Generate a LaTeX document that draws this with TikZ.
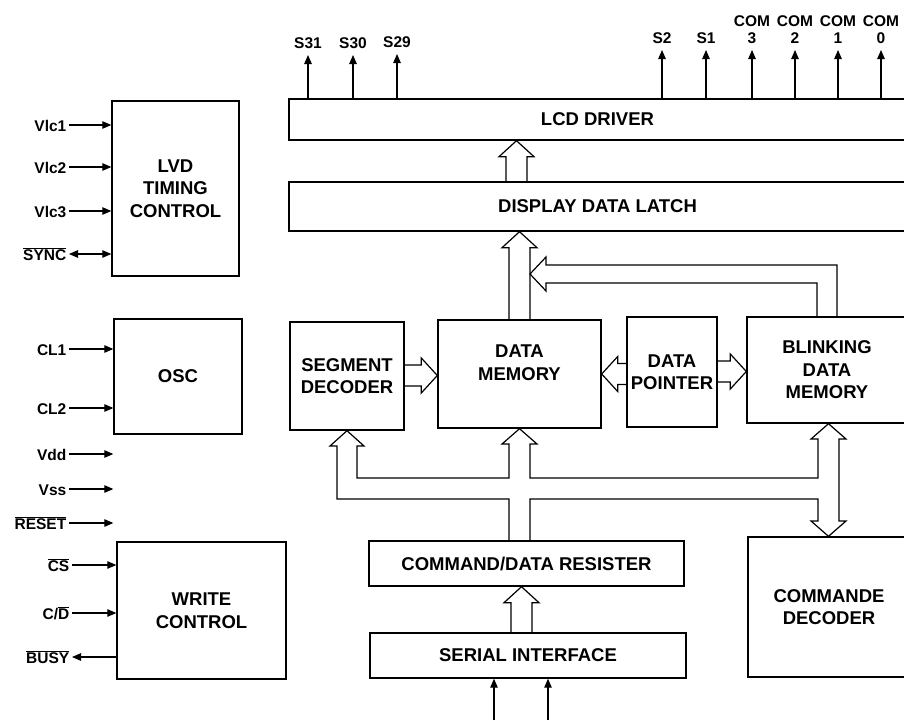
\documentclass[tikz,border=0pt]{standalone}
\usepackage{fontspec}
\setmainfont{Liberation Sans}
\usetikzlibrary{calc,arrows.meta}

\newcommand{\boxfont}{\fontsize{18.5}{22.5}\selectfont\bfseries}
\newcommand{\pinfont}{\fontsize{15.5}{17}\selectfont\bfseries}
\newcommand{\ovl}[1]{$\overline{\mbox{#1}}$}

\tikzset{
    blk/.style={draw, line width=1.4pt, align=center, font=\boxfont, inner sep=0pt},
    pinlbl/.style={font=\pinfont, inner sep=2.5pt, text height=12pt, text depth=0pt},
    comlbl/.style={font=\pinfont, inner sep=2.5pt, align=center},
    pin/.style={line width=1.1pt, -{Triangle[length=9pt,width=7.5pt]}},
    bipin/.style={line width=1.1pt, {Triangle[length=9pt,width=7.5pt]}-{Triangle[length=9pt,width=7.5pt]}},
    bus/.style={line width=1.2pt, line join=miter},
}

% hollow bus arrow pointing up: x, tail anchor, tip anchor
\newcommand{\vbus}[3]{%
    \draw[bus] ($(#1,0 |- #2)+(-10.5,0)$) -- ($(#1,0 |- #3)+(-10.5,16)$) -- ++(-7,0)
        -- (#1,0 |- #3) -- ($(#1,0 |- #3)+(17.5,16)$) -- ++(-7,0) -- ($(#1,0 |- #2)+(10.5,0)$);}
% hollow bus arrow sideways: y, tail anchor, tip anchor, direction (1 right, -1 left)
\newcommand{\hbus}[4]{%
    \draw[bus] ($(#2 |- 0,#1)+(0,-10.5)$) -- ($(#3 |- 0,#1)+(-16*#4,-10.5)$) -- ++(0,-7)
        -- (#3 |- 0,#1) -- ($(#3 |- 0,#1)+(-16*#4,17.5)$) -- ++(0,-7) -- ($(#2 |- 0,#1)+(0,10.5)$);}

\begin{document}
\begin{tikzpicture}[x=1pt, y=-1pt]
    \path[use as bounding box, clip] (0,0) rectangle (904,720);

    % blocks
    \node[blk, minimum width=127pt, minimum height=175pt] (lvd) at (175.5,188.5) {LVD\\TIMING\\CONTROL};
    \node[blk, minimum width=128pt, minimum height=115pt] (osc) at (178,376.5) {OSC};
    \node[blk, minimum width=169pt, minimum height=137pt] (wrc) at (201.5,610.5) {WRITE\\CONTROL};
    \node[blk, minimum width=617pt, minimum height=41pt] (drv) at (597.5,119.5) {LCD DRIVER};
    \node[blk, minimum width=617pt, minimum height=49pt] (latch) at (597.5,206.5) {DISPLAY DATA LATCH};
    \node[blk, minimum width=114pt, minimum height=108pt] (seg) at (347,376) {SEGMENT\\DECODER};
    \node[blk, minimum width=163pt, minimum height=108pt] (mem) at (519.5,374) {DATA\\MEMORY\\\mbox{}};
    \node[blk, minimum width=90pt, minimum height=110pt] (ptr) at (672,372) {DATA\\POINTER};
    \node[blk, minimum width=160pt, minimum height=106pt] (blink) at (827,370) {BLINKING\\DATA\\MEMORY};
    \node[blk, minimum width=315pt, minimum height=45pt] (cmd) at (526.5,563.5) {COMMAND/DATA RESISTER};
    \node[blk, minimum width=316pt, minimum height=45pt] (ser) at (528,655.5) {SERIAL INTERFACE};
    \node[blk, minimum width=162pt, minimum height=140pt] (cmdec) at (829,607) {COMMANDE\\DECODER};

    % left pins
    \foreach \nm/\txt/\y in {vlc1/Vlc1/125, vlc2/Vlc2/167, vlc3/Vlc3/211} {
        \node[pinlbl, anchor=east] (\nm) at (69,\y) {\txt};
        \draw[pin] (\nm.east) -- (\nm -| lvd.west);
    }
    \node[pinlbl, anchor=east] (sync) at (69,254) {\ovl{SYNC}};
    \draw[bipin] (sync.east) -- (sync -| lvd.west);
    \foreach \nm/\txt/\y in {cl1/CL1/349, cl2/CL2/408, vdd/Vdd/454, vss/Vss/489, reset/\ovl{RESET}/523} {
        \node[pinlbl, anchor=east] (\nm) at (69,\y) {\txt};
        \draw[pin] (\nm.east) -- (\nm -| osc.west);
    }
    \foreach \nm/\txt/\y in {cs/\ovl{CS}/565, cd/{C/\ovl{D}}/613} {
        \node[pinlbl, anchor=east] (\nm) at (72,\y) {\txt};
        \draw[pin] (\nm.east) -- (\nm -| wrc.west);
    }
    \node[pinlbl, anchor=east] (busy) at (72,657) {\ovl{BUSY}};
    \draw[pin] (busy -| wrc.west) -- (busy.east);

    % driver outputs
    \foreach \nm/\txt/\x/\yb in {s31/S31/308/51.5, s30/S30/353/51.5, s29/S29/397/50.5, s2/S2/662/46.5, s1/S1/706/46.5} {
        \node[pinlbl, anchor=south] (\nm) at (\x,\yb) {\txt};
        \draw[pin, shorten >=3.5pt] (\nm |- drv.north) -- (\nm.south);
    }
    \foreach \nm/\dg/\x in {com3/3/752, com2/2/795, com1/1/838, com0/0/881} {
        \node[comlbl, anchor=south] (\nm) at (\x,46) {COM\\\dg};
        \draw[pin, shorten >=4pt] (\nm |- drv.north) -- (\nm.south);
    }

    % serial inputs
    \coordinate (sin1) at (494,720);
    \coordinate (sin2) at (548,720);
    \draw[pin] (sin1) -- (sin1 |- ser.south);
    \draw[pin] (sin2) -- (sin2 |- ser.south);

    % data buses
    \vbus{516.5}{latch.north}{drv.south}
    \vbus{519.5}{mem.north}{latch.south}
    \vbus{521.5}{ser.north}{cmd.south}
    \hbus{375.5}{seg.east}{mem.west}{1}
    \hbus{374}{ptr.west}{mem.east}{-1}
    \hbus{371.5}{ptr.east}{blink.west}{1}

    % blinking memory back to latch
    \draw[bus] (817,0 |- blink.north) -- (817,283) -- (546,283) -- (546,291) -- (530,274)
        -- (546,257) -- (546,265) -- (837,265) -- (837,0 |- blink.north);

    % command bus
    \draw[bus] (509,0 |- cmd.north) -- (509,499) -- (337,499) -- (337,446) -- (330,446)
        -- (347,0 |- seg.south) -- (364,446) -- (357,446) -- (357,478) -- (509,478)
        -- (509,444) -- (502,444) -- (519.5,0 |- mem.south) -- (537,444) -- (530,444)
        -- (530,478) -- (818,478) -- (818,439) -- (811,439) -- (828.5,0 |- blink.south)
        -- (846,439) -- (839,439) -- (839,521) -- (846,521) -- (828.5,0 |- cmdec.north)
        -- (811,521) -- (818,521) -- (818,499) -- (530,499) -- (530,0 |- cmd.north);
\end{tikzpicture}
\end{document}
